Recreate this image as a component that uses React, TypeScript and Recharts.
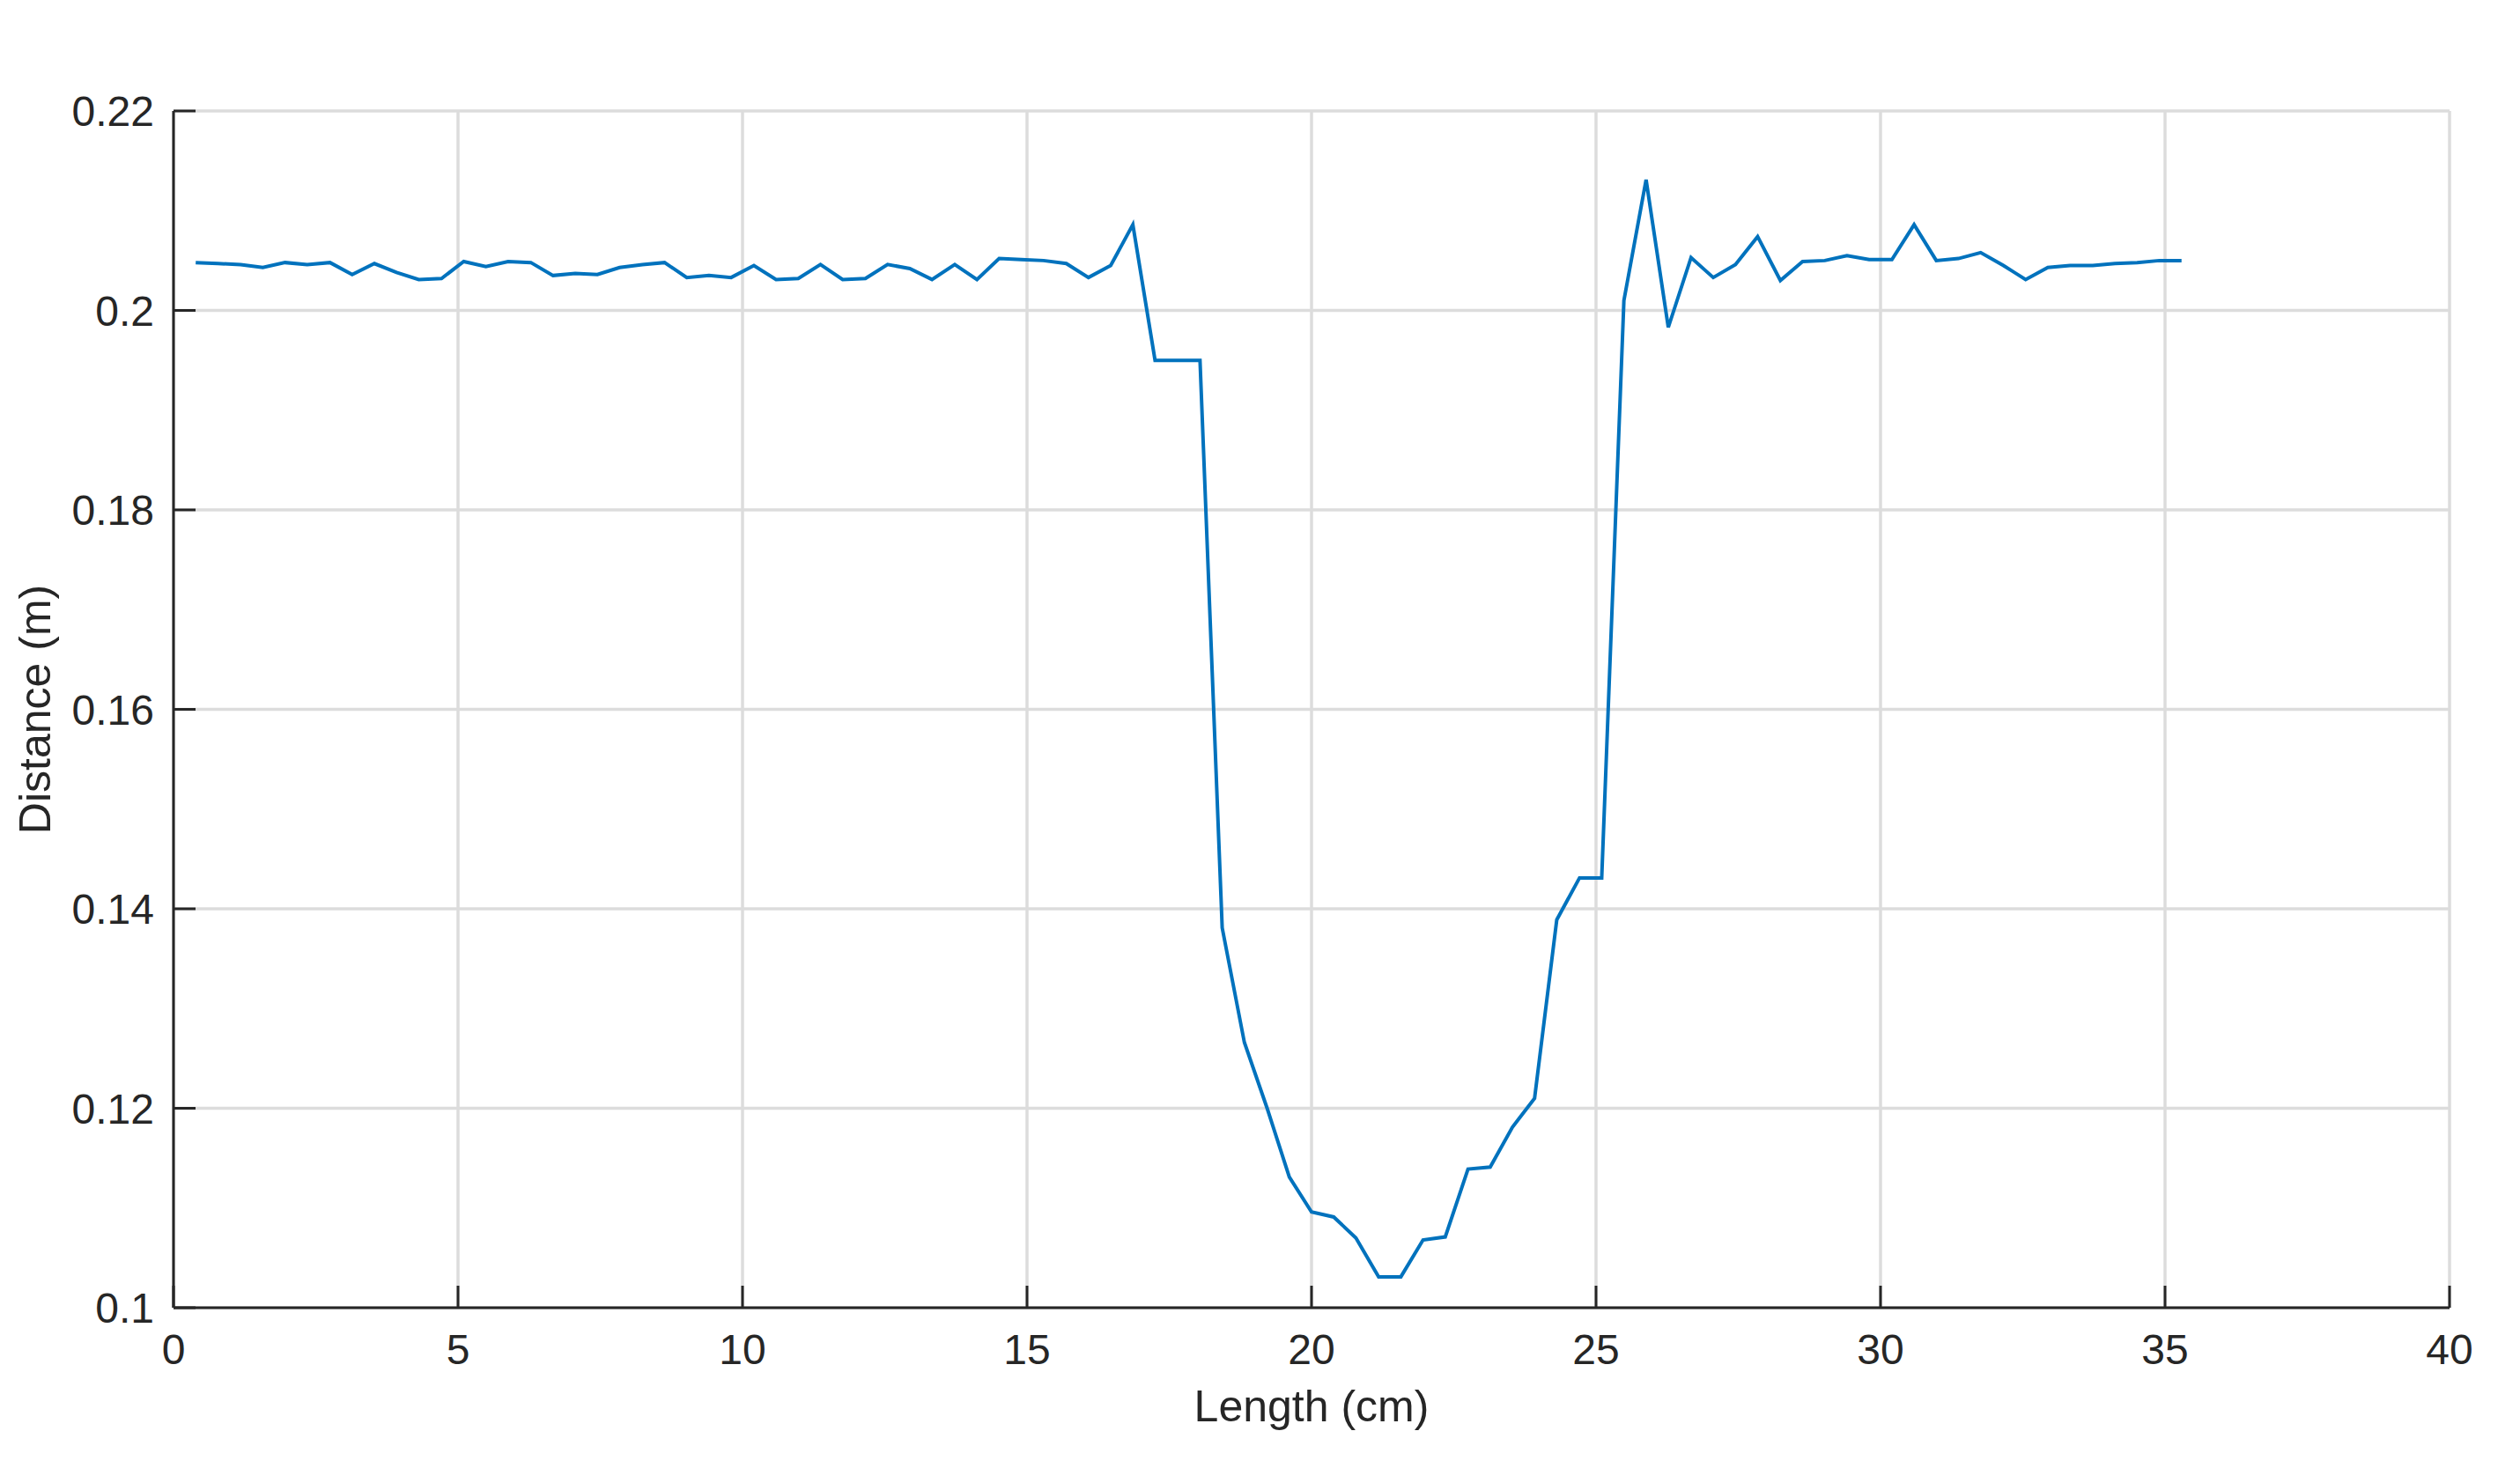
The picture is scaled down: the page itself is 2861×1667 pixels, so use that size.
import { LineChart, Line, XAxis, YAxis, CartesianGrid } from 'recharts';

// sample positions along the profile (cm)
const lengthCm = [
  0.39, 0.78, 1.18, 1.57, 1.96, 2.35, 2.75, 3.14, 3.53, 3.92,
  4.31, 4.71, 5.10, 5.49, 5.88, 6.28, 6.67, 7.06, 7.45, 7.84,
  8.24, 8.63, 9.02, 9.41, 9.80, 10.20, 10.59, 10.98, 11.37, 11.76,
  12.16, 12.55, 12.94, 13.33, 13.73, 14.12, 14.51, 14.90, 15.29, 15.69,
  16.08, 16.47, 16.86, 17.25, 17.65, 18.04, 18.43, 18.82, 19.22, 19.61,
  20.00, 20.39, 20.78, 21.18, 21.57, 21.96, 22.35, 22.75, 23.14, 23.53,
  23.92, 24.31, 24.71, 25.10, 25.49, 25.88, 26.27, 26.67, 27.06, 27.45,
  27.84, 28.24, 28.63, 29.02, 29.41, 29.80, 30.20, 30.59, 30.98, 31.37,
  31.76, 32.16, 32.55, 32.94, 33.33, 33.73, 34.12, 34.51, 34.90, 35.29,
];

// measured distance (m)
const distanceM = [
  0.2048, 0.2047, 0.2046, 0.2043, 0.2048, 0.2046, 0.2048, 0.2036, 0.2047, 0.2038,
  0.2031, 0.2032, 0.2049, 0.2044, 0.2049, 0.2048, 0.2035, 0.2037, 0.2036, 0.2043,
  0.2046, 0.2048, 0.2033, 0.2035, 0.2033, 0.2045, 0.2031, 0.2032, 0.2046, 0.2031,
  0.2032, 0.2046, 0.2042, 0.2031, 0.2046, 0.2031, 0.2052, 0.2051, 0.2050, 0.2047,
  0.2033, 0.2045, 0.2086, 0.1950, 0.1950, 0.1950, 0.1381, 0.1266, 0.1200, 0.1131,
  0.1096, 0.1091, 0.1070, 0.1031, 0.1031, 0.1068, 0.1071, 0.1139, 0.1141, 0.1181,
  0.1210, 0.1389, 0.1431, 0.1431, 0.2010, 0.2131, 0.1983, 0.2053, 0.2033, 0.2046,
  0.2074, 0.2030, 0.2049, 0.2050, 0.2055, 0.2051, 0.2051, 0.2086, 0.2050, 0.2052,
  0.2058, 0.2045, 0.2031, 0.2043, 0.2045, 0.2045, 0.2047, 0.2048, 0.2050, 0.2050,
];

const xTicks = [0, 5, 10, 15, 20, 25, 30, 35, 40];
const yTicks = [0.1, 0.12, 0.14, 0.16, 0.18, 0.2, 0.22];

const data = lengthCm.map((x, i) => ({ x, d: distanceM[i] }));

const FONT = '"Liberation Sans", Arial, Helvetica, sans-serif';
const INK = '#262626';

export default function App() {
  return (
    <div style={{ width: 2845, height: 1651 }}>
      <LineChart
        width={2845}
        height={1651}
        data={data}
        margin={{ top: 118, right: 72, bottom: 24, left: 9 }}
      >
        <CartesianGrid stroke="#dcdcdc" strokeWidth={3.5} />
        <XAxis
          dataKey="x"
          type="number"
          domain={[0, 40]}
          ticks={xTicks}
          height={150}
          tickSize={-25}
          tickMargin={55}
          axisLine={{ stroke: INK, strokeWidth: 3 }}
          tickLine={{ stroke: INK, strokeWidth: 3 }}
          tick={{ fill: INK, fontSize: 48, fontFamily: FONT }}
          label={{
            content: ({ viewBox }: any) => (
              <text
                x={viewBox.x + viewBox.width / 2}
                y={viewBox.y + 129}
                textAnchor="middle"
                fill={INK}
                fontSize={50}
                fontFamily={FONT}
              >
                Length (cm)
              </text>
            ),
          }}
        />
        <YAxis
          type="number"
          domain={[0.1, 0.22]}
          ticks={yTicks}
          width={180}
          tickSize={-25}
          tickMargin={47}
          axisLine={{ stroke: INK, strokeWidth: 3 }}
          tickLine={{ stroke: INK, strokeWidth: 3 }}
          tick={{ fill: INK, fontSize: 48, fontFamily: FONT }}
          tickFormatter={(v: number) => String(v)}
          label={{
            content: ({ viewBox }: any) => {
              const cx = 49;
              const cy = viewBox.y + viewBox.height / 2;
              return (
                <text
                  x={cx}
                  y={cy}
                  transform={`rotate(-90, ${cx}, ${cy})`}
                  textAnchor="middle"
                  fill={INK}
                  fontSize={50}
                  fontFamily={FONT}
                >
                  Distance (m)
                </text>
              );
            },
          }}
        />
        <Line
          type="linear"
          dataKey="d"
          stroke="#0072BD"
          strokeWidth={4}
          dot={false}
          isAnimationActive={false}
        />
      </LineChart>
    </div>
  );
}
